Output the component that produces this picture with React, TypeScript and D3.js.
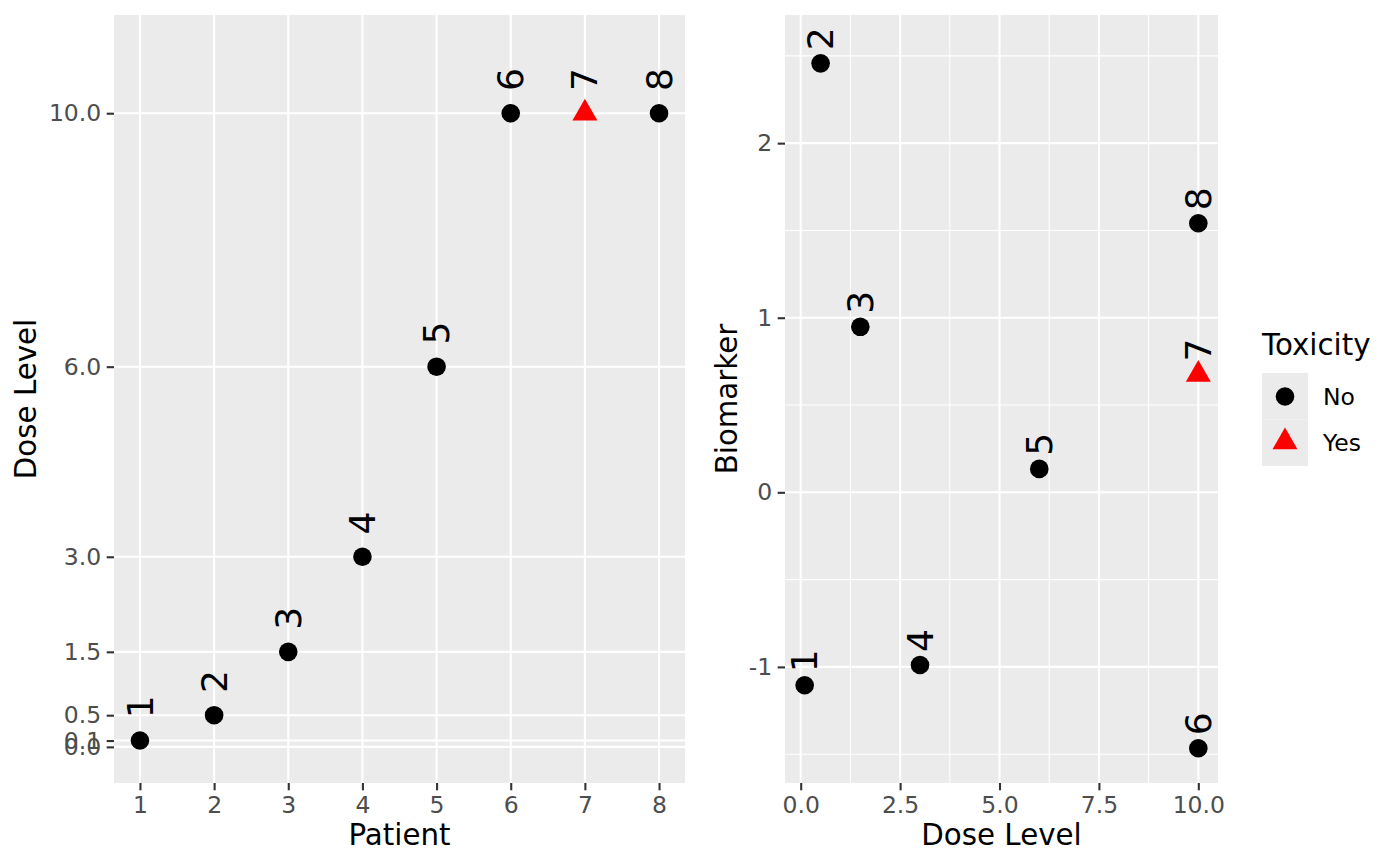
import React, { useRef, useEffect } from 'react';
import * as d3 from 'd3';

// data
const patients = [1, 2, 3, 4, 5, 6, 7, 8];
const doses = [0.1, 0.5, 1.5, 3, 6, 10, 10, 10];
const biomarker = [-1.105, 2.457, 0.948, -0.989, 0.134, -1.466, 0.675, 1.541];
const toxicity = ['No', 'No', 'No', 'No', 'No', 'No', 'Yes', 'No'];

const toxLevels = ['No', 'Yes'];
const doseBreaks = [0, 0.1, 0.5, 1.5, 3, 6, 10];
const patientBreaks = [1, 2, 3, 4, 5, 6, 7, 8];
const bioBreaks = [-1, 0, 1, 2];
const bioMinor = [-1.5, -0.5, 0.5, 1.5, 2.5];
const doseXBreaks = [0, 2.5, 5, 7.5, 10];
const doseXMinor = [1.25, 3.75, 6.25, 8.75];

const FONT = '"DejaVu Sans", Verdana, sans-serif';

const App = () => {
  const ref = useRef<SVGSVGElement>(null);

  useEffect(() => {
    const svg = d3.select(ref.current);
    svg.selectAll('*').remove();

    const color = d3.scaleOrdinal<string>().domain(toxLevels).range(['#000000', '#FF0000']);
    const shape = d3.scaleOrdinal<any>().domain(toxLevels).range([d3.symbolCircle, d3.symbolTriangle]);
    const symSize = (t: string) => (t === 'Yes' ? 270 : 272);

    const rows = patients.map((p, i) => ({
      patient: p,
      dose: doses[i],
      bio: biomarker[i],
      tox: toxicity[i],
    }));

    const drawPanel = (opts: {
      left: number;
      right: number;
      x: d3.ScaleLinear<number, number>;
      y: d3.ScaleLinear<number, number>;
      xBreaks: number[];
      xMinor: number[];
      yBreaks: number[];
      yMinor: number[];
      xFmt: (d: number) => string;
      yFmt: (d: number) => string;
      xTitle: string;
      yTitle: string;
      yTitleX: number;
      px: (d: any) => number;
      py: (d: any) => number;
      nudge: number;
    }) => {
      const { x, y } = opts;
      const top = 15;
      const bottom = 783;
      x.range([opts.left, opts.right]);
      y.range([bottom, top]);

      const g = svg.append('g');
      g.append('rect')
        .attr('x', opts.left)
        .attr('y', top)
        .attr('width', opts.right - opts.left)
        .attr('height', bottom - top)
        .attr('fill', '#EBEBEB');

      // minor grid
      g.selectAll('.vminor')
        .data(opts.xMinor)
        .enter()
        .append('line')
        .attr('x1', (d) => x(d))
        .attr('x2', (d) => x(d))
        .attr('y1', top)
        .attr('y2', bottom)
        .attr('stroke', '#fff')
        .attr('stroke-width', 1.05);
      g.selectAll('.hminor')
        .data(opts.yMinor)
        .enter()
        .append('line')
        .attr('x1', opts.left)
        .attr('x2', opts.right)
        .attr('y1', (d) => y(d))
        .attr('y2', (d) => y(d))
        .attr('stroke', '#fff')
        .attr('stroke-width', 1.05);

      // major grid
      g.selectAll('.vmajor')
        .data(opts.xBreaks)
        .enter()
        .append('line')
        .attr('x1', (d) => x(d))
        .attr('x2', (d) => x(d))
        .attr('y1', top)
        .attr('y2', bottom)
        .attr('stroke', '#fff')
        .attr('stroke-width', 2.1);
      g.selectAll('.hmajor')
        .data(opts.yBreaks)
        .enter()
        .append('line')
        .attr('x1', opts.left)
        .attr('x2', opts.right)
        .attr('y1', (d) => y(d))
        .attr('y2', (d) => y(d))
        .attr('stroke', '#fff')
        .attr('stroke-width', 2.1);

      // axes
      const xAxis = d3
        .axisBottom(x)
        .tickValues(opts.xBreaks)
        .tickFormat((d) => opts.xFmt(d as number))
        .tickSize(7.3)
        .tickPadding(5);
      const yAxis = d3
        .axisLeft(y)
        .tickValues(opts.yBreaks)
        .tickFormat((d) => opts.yFmt(d as number))
        .tickSize(7.3)
        .tickPadding(5.5);

      const gx = g.append('g').attr('transform', `translate(0, ${bottom})`).call(xAxis);
      const gy = g.append('g').attr('transform', `translate(${opts.left}, 0)`).call(yAxis);
      [gx, gy].forEach((ax) => {
        ax.select('.domain').remove();
        ax.selectAll('line').attr('stroke', '#333333').attr('stroke-width', 2.1);
        ax.selectAll('text')
          .attr('fill', '#4D4D4D')
          .style('font-family', FONT)
          .style('font-size', '23.5px');
      });
      gx.selectAll('text').attr('dy', '0.76em');

      g.append('text')
        .text(opts.xTitle)
        .attr('x', (opts.left + opts.right) / 2)
        .attr('y', 845)
        .attr('text-anchor', 'middle')
        .style('font-family', FONT)
        .style('font-size', '29.3px')
        .attr('fill', '#000');
      g.append('text')
        .text(opts.yTitle)
        .attr('transform', `translate(${opts.yTitleX}, ${(top + bottom) / 2}) rotate(-90)`)
        .attr('text-anchor', 'middle')
        .style('font-family', FONT)
        .style('font-size', '29.3px')
        .attr('fill', '#000');

      // points
      g.selectAll('.pt')
        .data(rows)
        .enter()
        .append('path')
        .attr('d', (d) => d3.symbol().type(shape(d.tox)).size(symSize(d.tox))() as string)
        .attr('transform', (d) => `translate(${x(opts.px(d))}, ${y(opts.py(d))})`)
        .attr('fill', (d) => color(d.tox));

      // rotated labels
      g.selectAll('.lbl')
        .data(rows)
        .enter()
        .append('text')
        .text((d) => d.patient)
        .attr(
          'transform',
          (d) => `translate(${x(opts.px(d))}, ${y(opts.py(d) + opts.nudge)}) rotate(-90)`,
        )
        .attr('dy', '0.35em')
        .attr('text-anchor', 'start')
        .style('font-family', FONT)
        .style('font-size', '36px')
        .attr('fill', '#000');
    };

    drawPanel({
      left: 114,
      right: 685,
      x: d3.scaleLinear().domain([0.65, 8.35]),
      y: d3.scaleLinear().domain([-0.57, 11.55]),
      xBreaks: patientBreaks,
      xMinor: [],
      yBreaks: doseBreaks,
      yMinor: [],
      xFmt: (d) => d3.format('d')(d),
      yFmt: (d) => d3.format('.1f')(d),
      xTitle: 'Patient',
      yTitle: 'Dose Level',
      yTitleX: 36,
      px: (d) => d.patient,
      py: (d) => d.dose,
      nudge: 0.35,
    });

    drawPanel({
      left: 785,
      right: 1218,
      x: d3.scaleLinear().domain([-0.395, 10.495]),
      y: d3.scaleLinear().domain([-1.665, 2.734]),
      xBreaks: doseXBreaks,
      xMinor: doseXMinor,
      yBreaks: bioBreaks,
      yMinor: bioMinor,
      xFmt: (d) => d3.format('.1f')(d),
      yFmt: (d) => d3.format('d')(d).replace('−', '-'),
      xTitle: 'Dose Level',
      yTitle: 'Biomarker',
      yTitleX: 737,
      px: (d) => d.dose,
      py: (d) => d.bio,
      nudge: 0.075,
    });

    // legend
    const legend = svg.append('g').attr('transform', 'translate(1262, 0)');
    legend
      .append('text')
      .text('Toxicity')
      .attr('x', 0)
      .attr('y', 355)
      .style('font-family', FONT)
      .style('font-size', '29.3px')
      .attr('fill', '#000');
    const keys = legend
      .selectAll('.key')
      .data(toxLevels)
      .enter()
      .append('g')
      .attr('transform', (_, i) => `translate(0, ${373 + i * 46.5})`);
    keys
      .append('rect')
      .attr('width', 46)
      .attr('height', 46.5)
      .attr('fill', '#EBEBEB');
    keys
      .append('path')
      .attr('d', (d) => d3.symbol().type(shape(d)).size(symSize(d))() as string)
      .attr('transform', (d) => `translate(23, ${d === 'Yes' ? 22.5 : 23.5})`)
      .attr('fill', (d) => color(d));
    keys
      .append('text')
      .text((d) => d)
      .attr('x', 61)
      .attr('y', 23.5)
      .attr('dy', '0.35em')
      .style('font-family', FONT)
      .style('font-size', '23.5px')
      .attr('fill', '#000');
  }, []);

  return (
    <svg
      ref={ref}
      width={1400}
      height={866}
      style={{ position: 'absolute', left: 0, top: 0, background: '#fff' }}
    />
  );
};

export default App;
